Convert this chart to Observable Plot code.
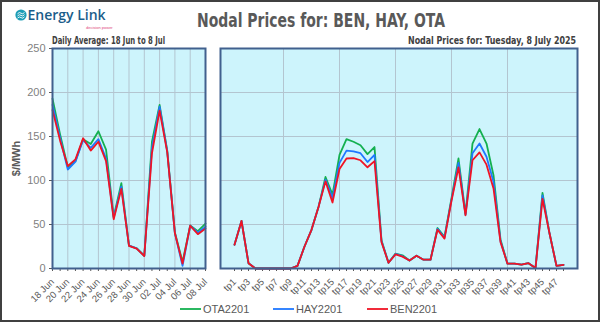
<!DOCTYPE html>
<html><head><meta charset="utf-8">
<script src="https://cdn.jsdelivr.net/npm/d3@7"></script>
<script src="https://cdn.jsdelivr.net/npm/@observablehq/plot@0.6"></script>
<style>
html,body{margin:0;padding:0;background:#fff;}
#wrap{position:relative;width:600px;height:322px;overflow:hidden;background:#fff;}
#left,#right{position:absolute;top:40px;}
#left{left:0px;} #right{left:212px;}
#overlay{position:absolute;left:0;top:0;z-index:5;pointer-events:none;}
#border{position:absolute;left:0;top:0;width:600px;height:322px;box-sizing:border-box;border:2px solid #404040;z-index:6;pointer-events:none;}
</style></head><body>
<div id="wrap">
  <div id="left"></div>
  <div id="right"></div>
  <svg id="overlay" width="600" height="322"></svg>
  <div id="border"></div>
</div>
<script>
// ---- data ----
const seriesNames = ["OTA2201", "HAY2201", "BEN2201"];
const seriesColors = ["#14b050", "#1f78ff", "#f01424"];

const days = ["2025-06-18","2025-06-19","2025-06-20","2025-06-21","2025-06-22","2025-06-23","2025-06-24",
  "2025-06-25","2025-06-26","2025-06-27","2025-06-28","2025-06-29","2025-06-30","2025-07-01",
  "2025-07-02","2025-07-03","2025-07-04","2025-07-05","2025-07-06","2025-07-07","2025-07-08"];
const otaDaily = [193, 152, 115, 122, 147, 141.5, 156, 135, 59, 97, 26, 23, 14.5, 144, 186, 134, 41, 7.5, 49, 42.5, 51];
const hayDaily = [186, 148, 112.5, 121.5, 146, 137, 147, 125, 57.5, 93, 26, 22.8, 14.4, 137, 184, 133, 40, 3, 48.6, 40.6, 47.5];
const benDaily = [180, 145, 116.5, 124, 148, 134, 144, 122, 56, 90.5, 25.8, 22.5, 14.2, 131, 179.5, 132, 40, 5.7, 48.6, 39, 45.5];

const tps = Array.from({length: 48}, (_, i) => "tp" + (i + 1));
const otaTp = [27, 54, 6, 0, 0, 0, 0, 0, 0, 3, 25, 44, 70, 104, 84, 129, 147, 144, 140, 130, 138, 32, 6.5, 17,
  15, 9, 14.5, 10, 10, 46, 36, 80, 125, 62, 142, 158.5, 142, 106, 33, 5.5, 5.5, 4.5, 6, 0.5, 86, 40, 3, 4];
const hayTp = [27, 54, 6, 0, 0, 0, 0, 0, 0, 3, 25, 44, 70, 101, 80, 120, 134, 133, 131, 121, 129, 31, 6.5, 16.5,
  14, 9, 14.5, 10, 10, 45, 35, 78, 120, 61, 131, 142, 127, 98.7, 31, 5.5, 5.5, 4.5, 6, 0.5, 83, 40, 3, 4];
const benTp = [27, 54, 6, 0, 0, 0, 0, 0, 0, 3, 25, 44, 70, 99, 75, 113, 125, 125.5, 123, 115, 122, 30, 6.5, 16,
  13.5, 9, 14.5, 10, 10, 44, 34, 77, 115, 60.5, 123, 132, 118, 91, 30, 5.5, 5.5, 4.5, 6, 0.5, 79, 40, 3, 4];

const yTicks = [0, 50, 100, 150, 200, 250];
const yGrid = [50, 100, 150, 200];
const tpGrid = ["tp8", "tp16", "tp24", "tp32", "tp40"];

// ---- build ----
const dailyVals = [otaDaily, hayDaily, benDaily];
const tpVals = [otaTp, hayTp, benTp];
const dates = days.map(d => new Date(d + "T00:00:00Z"));
const fmt = d3.utcFormat("%d %b");
const labelDates = new Set(dates.filter((d, i) => i % 2 === 0).map(d => +d));
const gridDates = dates.filter((d, i) => i % 2 === 0 && i > 0 && i < dates.length - 1);

const bg = "#cdf4fc", gridC = "#b3c5d0", frameC = "#41608e", textC = "#595959";
const font = "'Liberation Sans', Arial, sans-serif";

const leftPlot = Plot.plot({
  width: 212, height: 282,
  marginLeft: 52, marginRight: 7, marginTop: 8, marginBottom: 54,
  style: {fontFamily: font, color: textC, background: "transparent", overflow: "visible"},
  x: {type: "utc", domain: [dates[0], dates[dates.length - 1]]},
  y: {domain: [0, 250]},
  marks: [
    Plot.frame({fill: bg, stroke: null}),
    Plot.gridY({ticks: yGrid, stroke: gridC, strokeOpacity: 1}),
    Plot.gridX({ticks: gridDates, stroke: gridC, strokeOpacity: 1}),
    Plot.axisY({ticks: yTicks, tickSize: 3, tickPadding: 4, fontSize: 11, fill: "#7f7f7f",
      label: "$/MWh", labelAnchor: "center", labelArrow: "none", labelOffset: 40}),
    Plot.axisX({ticks: dates, tickSize: 3, tickRotate: -45, fontSize: 9.5, fill: textC,
      tickFormat: d => labelDates.has(+d) ? fmt(d) : "", label: null}),
    ...dailyVals.map((vals, k) => Plot.line(dates.map((d, i) => ({x: d, y: vals[i]})),
      {x: "x", y: "y", stroke: seriesColors[k], strokeWidth: 1.8})),
    Plot.frame({stroke: frameC, strokeWidth: 2})
  ]
});
d3.select(leftPlot).selectAll('[aria-label="y-axis label"] text').attr("font-weight", "bold").attr("fill", textC).attr("font-size", 11);
document.getElementById("left").appendChild(leftPlot);

const rightPlot = Plot.plot({
  width: 380, height: 282,
  marginLeft: 8, marginRight: 15, marginTop: 8, marginBottom: 54,
  style: {fontFamily: font, color: textC, background: "transparent", overflow: "visible"},
  x: {type: "point", domain: tps, padding: 0},
  y: {domain: [0, 250], axis: null},
  marks: [
    Plot.frame({fill: bg, stroke: null}),
    Plot.gridY({ticks: yGrid, stroke: gridC, strokeOpacity: 1}),
    Plot.gridX({ticks: tpGrid, stroke: gridC, strokeOpacity: 1}),
    Plot.axisX({ticks: tps, tickSize: 3, tickRotate: -45, fontSize: 9.5, fill: textC,
      tickFormat: (d) => (tps.indexOf(d) % 2 === 0 ? d : ""), label: null}),
    ...tpVals.map((vals, k) => Plot.line(tps.map((t, i) => ({x: t, y: vals[i]})),
      {x: "x", y: "y", stroke: seriesColors[k], strokeWidth: 1.8})),
    Plot.frame({stroke: frameC, strokeWidth: 2})
  ]
});
document.getElementById("right").appendChild(rightPlot);

// ---- header, legend, logo ----
const ov = d3.select("#overlay");
const narrow = "'Liberation Sans Narrow', 'DejaVu Sans Condensed', sans-serif";
ov.append("text").attr("x", 197).attr("y", 27)
  .attr("font-family", narrow).attr("font-weight", "bold").attr("font-size", 19.5).attr("fill", textC)
  .attr("textLength", 248).attr("lengthAdjust", "spacingAndGlyphs")
  .text("Nodal Prices for: BEN, HAY, OTA");
ov.append("text").attr("x", 52).attr("y", 43.5)
  .attr("font-family", narrow).attr("font-weight", "bold").attr("font-size", 10).attr("fill", "#404040")
  .attr("textLength", 113).attr("lengthAdjust", "spacingAndGlyphs")
  .text("Daily Average: 18 Jun to 8 Jul");
ov.append("text").attr("x", 408).attr("y", 43.5)
  .attr("font-family", narrow).attr("font-weight", "bold").attr("font-size", 10).attr("fill", "#404040")
  .attr("textLength", 168).attr("lengthAdjust", "spacingAndGlyphs")
  .text("Nodal Prices for: Tuesday, 8 July 2025");

// logo
const lg = ov.append("g");
lg.append("circle").attr("cx", 21).attr("cy", 15).attr("r", 5.6).attr("fill", "#1c9db6");
[-2.2, 0, 2.2].forEach(dy => lg.append("path")
  .attr("d", `M17.5 ${15 + dy + 1} q1.8 -2.2 3.5 -0.6 q1.8 1.6 3.5 -0.8`)
  .attr("fill", "none").attr("stroke", "#fff").attr("stroke-width", 0.9));
lg.append("text").attr("x", 27.5).attr("y", 20).attr("font-family", "'Open Sans', sans-serif")
  .attr("font-weight", 600).attr("font-size", 14).attr("fill", "#1b5d8a").text("Energy Link");
lg.append("text").attr("x", 86).attr("y", 28.5).attr("font-family", font)
  .attr("font-size", 4).attr("fill", "#e0457b").text("decision power");

// legend
const legX = [180, 273, 367];
seriesNames.forEach((n, k) => {
  ov.append("line").attr("x1", legX[k]).attr("x2", legX[k] + 21).attr("y1", 309).attr("y2", 309)
    .attr("stroke", seriesColors[k]).attr("stroke-width", 1.8);
  ov.append("text").attr("x", legX[k] + 23).attr("y", 313).attr("font-family", font)
    .attr("font-size", 11).attr("fill", textC).text(n);
});
</script>
</body></html>
